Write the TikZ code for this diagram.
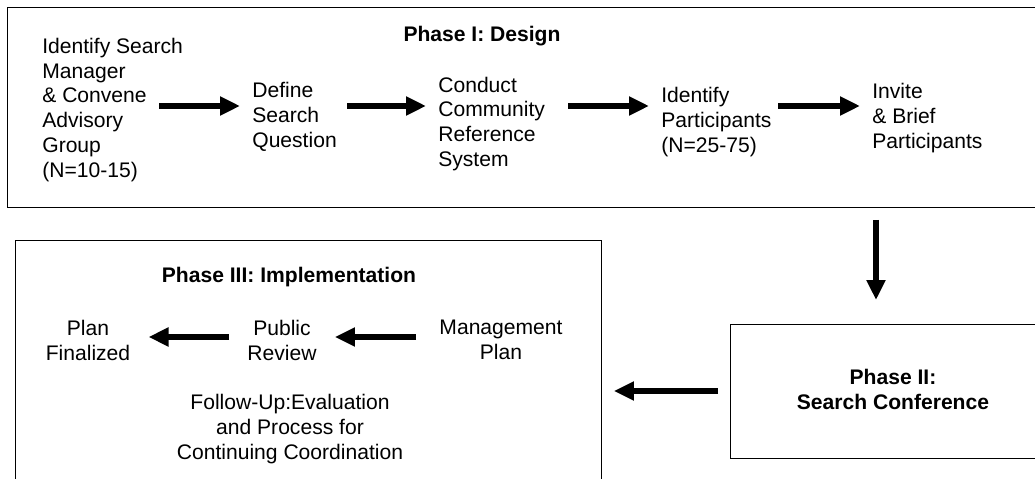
\documentclass[tikz,border=0pt]{standalone}
\usepackage{fontspec}
\setmainfont{Liberation Sans}
\usepackage{tikz}
\usetikzlibrary{arrows.meta}
\usetikzlibrary{calc}

\begin{document}
\begin{tikzpicture}[x=0.02cm,y=-0.02cm,
        every node/.style={font=\fontsize{12}{14.2}\selectfont},
        phasebox/.style={draw,line width=0.6pt,anchor=north west,inner sep=0pt},
        phasetitle/.style={font=\fontsize{12}{14.2}\selectfont\bfseries,align=center},
        toptext/.style={align=left,anchor=west,inner xsep=0.24cm,inner ysep=0pt},
        lowtext/.style={align=center,inner xsep=0.36cm,inner ysep=0pt},
        flow/.style={line width=3.4pt,-{Triangle[length=0.4cm,width=0.36cm]}}]
        \useasboundingbox (0,0) rectangle (1035,479);
        \clip (0,0) rectangle (1035,479);
        % the three phase boxes
        \node[phasebox,minimum width=20.76cm,minimum height=4cm] (p1) at (7,7) {};
        \node[phasebox,minimum width=11.72cm,minimum height=5.3cm] (p3) at (15,240) {};
        \node[phasebox,minimum width=6.3cm,minimum height=2.68cm] (p2) at (730,324) {};
        \node[phasetitle] (h1) at (482,36) {Phase I: Design};
        \node[phasetitle] (h2) at (893,389) {Phase II:\\Search Conference};
        \node[phasetitle] (h3) at (289,277) {Phase III: Implementation};
        % phase I
        \node[toptext] (n1) at (30,110) {Identify Search\\Manager\\\& Convene\\Advisory\\Group\\(N=10-15)};
        \node[toptext] (n2) at (240,117) {Define\\Search\\Question};
        \node[toptext] (n3) at (426,124) {Conduct\\Community\\Reference\\System};
        \node[toptext] (n4) at (649,122) {Identify\\Participants\\(N=25-75)};
        \node[toptext] (n5) at (860,118) {Invite\\\& Brief\\Participants};
        \coordinate (a1) at (159,106);
        \coordinate (a2) at (347,106);
        \coordinate (a3) at (568,106);
        \coordinate (a4) at (778,106);
        \draw[flow] (a1) -- (a1 -| n2.west);
        \draw[flow] (a2) -- (a2 -| n3.west);
        \draw[flow] (a3) -- (a3 -| n4.west);
        \draw[flow] (a4) -- (a4 -| n5.west);
        % phase I to II to III
        \coordinate (c1) at (876,220);
        \draw[flow] (c1) -- ($(c1 |- p2.north)+(0,-24)$);
        \coordinate (e1) at (718,391);
        \draw[flow] (e1) -- ($(e1 -| p3.east)+(12,0)$);
        % phase III
        \node[lowtext] (pf) at (88,340) {Plan\\Finalized};
        \node[lowtext] (pr) at (282,340) {Public\\Review};
        \node[lowtext] (mp) at (501,340) {Management\\Plan};
        \node[lowtext] (fu) at (290,429) {Follow-Up:Evaluation\\and Process for\\Continuing Coordination};
        \coordinate (b1) at (229,337);
        \coordinate (b2) at (416,337);
        \draw[flow] (b1) -- (b1 -| pf.east);
        \draw[flow] (b2) -- (b2 -| pr.east);
\end{tikzpicture}
\end{document}
